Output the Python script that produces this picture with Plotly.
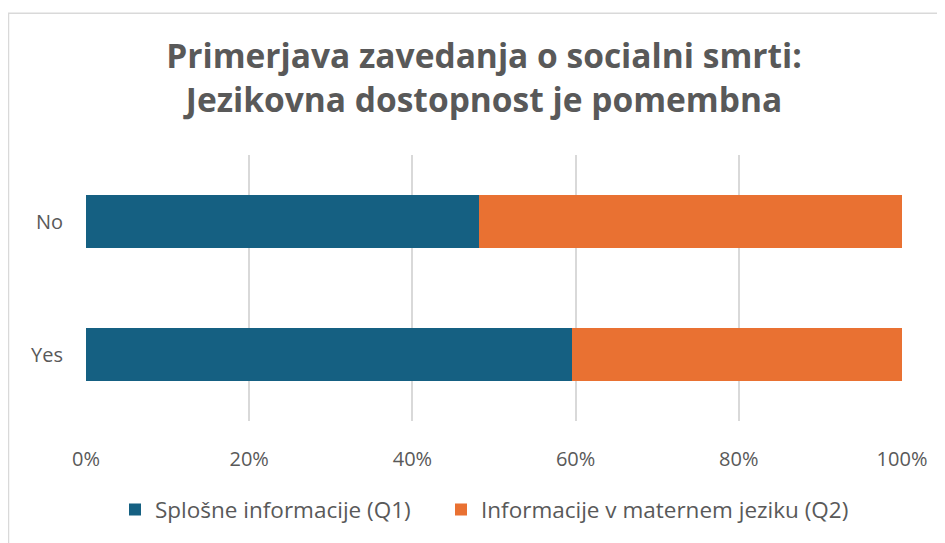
import plotly.graph_objects as go

categories = ["Yes", "No"]
q1_values = [59.6, 48.2]
q2_values = [40.4, 51.8]
series_names = ["Splošne informacije (Q1)", "Informacije v maternem jeziku (Q2)"]
tick_vals = [0, 20, 40, 60, 80, 100]
tick_labels = ["0%", "20%", "40%", "60%", "80%", "100%"]
title_text = "Primerjava zavedanja o socialni smrti:<br>Jezikovna dostopnost je pomembna"

FONT = "'Open Sans', 'Noto Sans', sans-serif"
TXT = "#595959"

fig = go.Figure()
fig.add_trace(go.Bar(y=categories, x=q1_values, name=series_names[0], orientation="h",
                     marker=dict(color="#156082", line=dict(width=0)),
                     legend="legend", showlegend=True))
fig.add_trace(go.Bar(y=categories, x=q2_values, name=series_names[1], orientation="h",
                     marker=dict(color="#E97132", line=dict(width=0)),
                     legend="legend2", showlegend=True))

# page body has an 8px margin, so figure coordinates = reference - 8
OFF = 8
W, H = 945 - OFF, 543 - OFF
L, R, T, B = 78, 43, 147, 116
pw, ph = W - L - R, H - T - B

def px(x):
    return (x - OFF - L) / pw

def py(y):
    return (H - B - (y - OFF)) / ph

legend_common = dict(orientation="h", xanchor="left", xref="paper",
                     y=py(496), yanchor="top", font=dict(size=22.5, color=TXT),
                     itemwidth=30, bgcolor="rgba(0,0,0,0)", visible=True)

fig.update_layout(
    width=W, height=H,
    showlegend=True,
    margin=dict(l=L, r=R, t=T, b=B),
    barmode="stack", bargap=0.6,
    plot_bgcolor="white", paper_bgcolor="white",
    font=dict(family=FONT, color=TXT, size=20),
    title=dict(text=title_text, x=px(484), xref="paper", xanchor="center",
               y=1 - (68 - OFF) / H, yanchor="middle",
               font=dict(family=FONT, size=33.5, color=TXT, weight="bold")),
    xaxis=dict(range=[0, 100], tickvals=tick_vals, ticktext=tick_labels,
               showgrid=True, gridcolor="#D9D9D9", gridwidth=1.5, zeroline=False,
               showline=False, ticks="", ticklabelstandoff=24,
               tickfont=dict(size=20, color=TXT)),
    yaxis=dict(showgrid=False, zeroline=False, showline=False, ticks="",
               ticklabelstandoff=22, tickfont=dict(size=20, color=TXT)),
    legend=dict(x=px(115), **legend_common),
    legend2=dict(x=px(441), **legend_common),
    shapes=[dict(type="rect", xref="paper", yref="paper",
                 x0=px(8.5), x1=px(970), y0=py(560), y1=py(10),
                 line=dict(color="#D9D9D9", width=1.5), fillcolor="rgba(0,0,0,0)",
                 layer="below")],
)

fig.write_html("out.html")
